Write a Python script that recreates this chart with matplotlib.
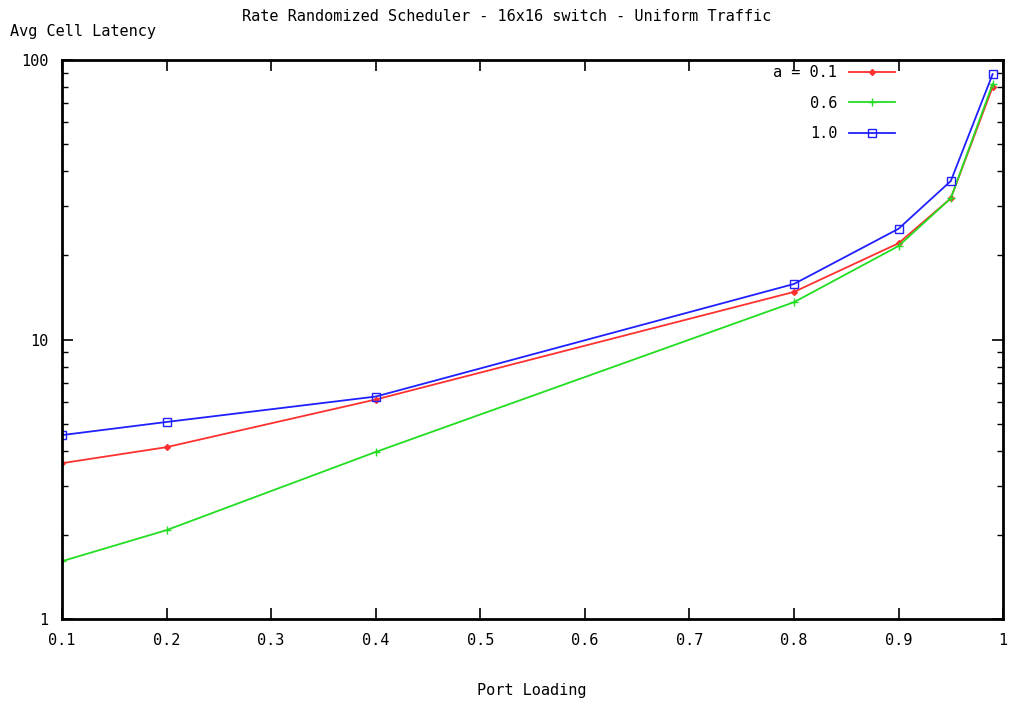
import matplotlib
matplotlib.use("Agg")
import matplotlib.pyplot as plt
from matplotlib.ticker import FixedLocator, NullFormatter

load = [0.1, 0.2, 0.4, 0.8, 0.9, 0.95, 0.99]
lat_01 = [3.61, 4.12, 6.1, 14.8, 22.1, 32.0, 80.0]
lat_06 = [1.61, 2.08, 3.96, 13.6, 21.6, 32.0, 82.0]
lat_10 = [4.55, 5.07, 6.25, 15.8, 24.9, 36.9, 89.0]
labels = ["a = 0.1", "0.6", "1.0"]
xticks = [0.1, 0.2, 0.3, 0.4, 0.5, 0.6, 0.7, 0.8, 0.9, 1.0]
xticklabels = ["0.1", "0.2", "0.3", "0.4", "0.5", "0.6", "0.7", "0.8", "0.9", "1"]

plt.rcParams['font.family'] = ['DejaVu Sans Mono']
plt.rcParams['font.size'] = 11

fig = plt.figure(figsize=(10.13, 7.06), dpi=100)
ax = fig.add_axes([0.0612, 0.1232, 0.929, 0.7918])

ax.plot(load, lat_01, color='#ff3030', marker='D', markersize=3, lw=1.3, label=labels[0])
ax.plot(load, lat_06, color='#22dd22', marker='+', markersize=6, lw=1.3, label=labels[1])
ax.plot(load, lat_10, color='#2020ff', marker='s', markersize=6, mfc='none', lw=1.3, label=labels[2])

ax.set_yscale('log')
ax.set_xlim(0.1, 1.0)
ax.set_ylim(1, 100)
ax.set_xticks(xticks)
ax.set_xticklabels(xticklabels)
ax.set_yticks([1, 10, 100])
ax.set_yticklabels(["1", "10", "100"])
ax.yaxis.set_minor_locator(FixedLocator([m * d for d in (1, 10) for m in range(2, 10)]))
ax.yaxis.set_minor_formatter(NullFormatter())
ax.tick_params(which='both', direction='in', top=True, right=True, color='black')
ax.tick_params(which='major', length=8, width=1.2, pad=10)
ax.tick_params(which='minor', length=4, width=1.0)
for s in ax.spines.values():
    s.set_linewidth(2)

ax.legend(loc='upper right', bbox_to_anchor=(0.9, 1.015), frameon=False,
          markerfirst=False, handlelength=3, labelspacing=1.0, fontsize=11)

fig.text(0.5, 0.977, "Rate Randomized Scheduler - 16x16 switch - Uniform Traffic",
         ha='center', va='center', fontsize=11)
fig.text(0.01, 0.956, "Avg Cell Latency", ha='left', va='center', fontsize=11)
fig.text(0.525, 0.022, "Port Loading", ha='center', va='center', fontsize=11)

fig.savefig("out.png", dpi=100)
